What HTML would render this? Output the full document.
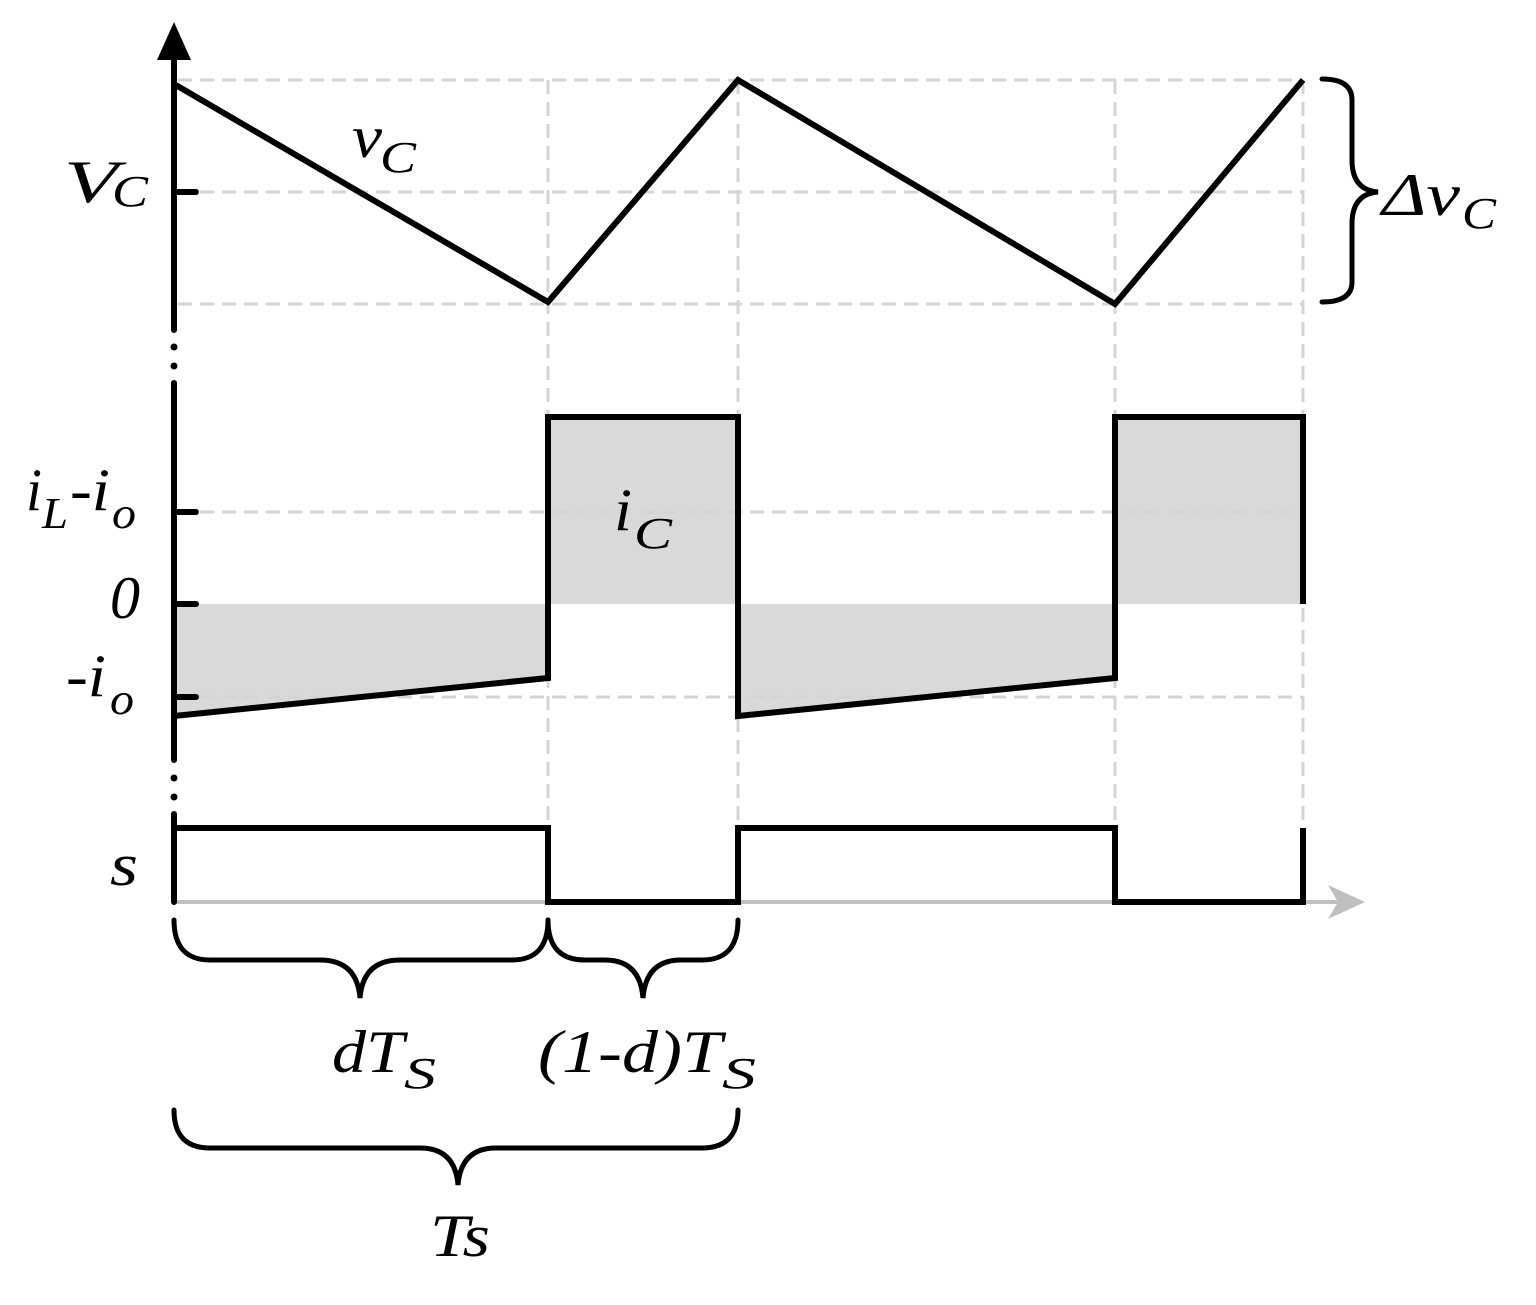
<!DOCTYPE html>
<html><head><meta charset="utf-8"><style>body{margin:0;background:#fff}svg{display:block}text{font-family:"Liberation Serif","Times New Roman",serif;font-style:italic;fill:#000}</style></head>
<body>
<svg width="1536" height="1305" viewBox="0 0 1536 1305" xmlns="http://www.w3.org/2000/svg">
<path d="M174,604 L174,716 L548,678 L548,604 Z" fill="#d9d9d9"/>
<path d="M738,604 L738,716 L1115,678 L1115,604 Z" fill="#d9d9d9"/>
<path d="M548,604 L548,417 L738,417 L738,604 Z" fill="#d9d9d9"/>
<path d="M1115,604 L1115,417 L1303,417 L1303,604 Z" fill="#d9d9d9"/>
<g stroke="#d4d4d4" stroke-width="3" stroke-dasharray="14,8" fill="none">
<path d="M178,80 H1303 M178,192 H1303 M178,304 H1303 M178,512 H1303 M178,697 H1303"/>
<path d="M548,80 V902 M738,80 V902 M1115,80 V902 M1303,80 V902"/>
</g>
<line x1="174" y1="902" x2="1345" y2="902" stroke="#bfbfbf" stroke-width="4"/>
<path d="M1365,902 L1328,885 L1338,902 L1328,919 Z" fill="#bfbfbf"/>
<g stroke="#000" stroke-width="6" stroke-linecap="round" fill="none">
<path d="M174,50 V330 M174,383 V760 M174,814 V902"/>
<path d="M174,192 H196 M174,512 H196 M174,604 H196 M174,697 H196"/>
</g>
<circle cx="174" cy="347" r="3.5"/><circle cx="174" cy="366" r="3.5"/>
<circle cx="174" cy="778" r="3.5"/><circle cx="174" cy="797" r="3.5"/>
<path d="M174,22 L157,60 L191,60 Z"/>
<g stroke="#000" stroke-width="6" fill="none" stroke-linejoin="miter">
<path d="M174,84 L548,302 L738,80 L1115,304 L1303,80"/>
<path d="M174,716 L548,678 L548,417 L738,417 L738,716 L1115,678 L1115,417 L1303,417 L1303,604"/>
<path d="M174,828 L548,828 L548,902 L738,902 L738,828 L1115,828 L1115,902 L1303,902 L1303,828"/>
</g>
<g stroke="#000" stroke-width="5" fill="none" stroke-linecap="round">
<path d="M1322,79 Q1352,79 1352,100 V160 Q1352,190 1378,192 Q1352,194 1352,224 V282 Q1352,302 1322,302"/>
<path d="M174,920 Q174,960 210,960 H320 Q357,960 360,998 Q363,960 400,960 H512 Q548,960 548,920"/>
<path d="M548,920 Q548,960 585,960 H605 Q640,960 643,998 Q646,960 681,960 H702 Q738,960 738,920"/>
<path d="M174,1110 Q174,1148 210,1148 H420 Q455,1148 458,1185 Q461,1148 496,1148 H702 Q738,1148 738,1110"/>
</g>
<g lengthAdjust="spacingAndGlyphs">
<text x="64" y="202" font-size="60" textLength="54" lengthAdjust="spacingAndGlyphs">V</text><text x="112" y="206" font-size="44" textLength="36" lengthAdjust="spacingAndGlyphs">C</text>
<text x="352" y="157" font-size="60" textLength="30" lengthAdjust="spacingAndGlyphs">v</text><text x="380" y="172" font-size="44" textLength="36" lengthAdjust="spacingAndGlyphs">C</text>
<text x="1382" y="215" font-size="60" textLength="78" lengthAdjust="spacingAndGlyphs">Δv</text><text x="1462" y="228" font-size="44" textLength="34" lengthAdjust="spacingAndGlyphs">C</text>
<text x="26" y="510" font-size="60" textLength="16" lengthAdjust="spacingAndGlyphs">i</text><text x="42" y="528" font-size="44" textLength="26" lengthAdjust="spacingAndGlyphs">L</text><text x="70" y="510" font-size="60" textLength="40" lengthAdjust="spacingAndGlyphs">-i</text><text x="112" y="528" font-size="44" textLength="24" lengthAdjust="spacingAndGlyphs">o</text>
<text x="110" y="618" font-size="60" textLength="30" lengthAdjust="spacingAndGlyphs">0</text>
<text x="66" y="696" font-size="60" textLength="40" lengthAdjust="spacingAndGlyphs">-i</text><text x="110" y="714" font-size="44" textLength="24" lengthAdjust="spacingAndGlyphs">o</text>
<text x="614" y="530" font-size="60" textLength="18" lengthAdjust="spacingAndGlyphs">i</text><text x="634" y="548" font-size="44" textLength="38" lengthAdjust="spacingAndGlyphs">C</text>
<text x="110" y="885" font-size="60" textLength="28" lengthAdjust="spacingAndGlyphs">s</text>
<text x="332" y="1072" font-size="60" textLength="72" lengthAdjust="spacingAndGlyphs">dT</text><text x="404" y="1088" font-size="44" textLength="32" lengthAdjust="spacingAndGlyphs">S</text>
<text x="538" y="1072" font-size="60" textLength="184" lengthAdjust="spacingAndGlyphs">(1-d)T</text><text x="722" y="1088" font-size="44" textLength="34" lengthAdjust="spacingAndGlyphs">S</text>
<text x="430" y="1256" font-size="60" textLength="60" lengthAdjust="spacingAndGlyphs">Ts</text>
</g>
</svg>
</body></html>
